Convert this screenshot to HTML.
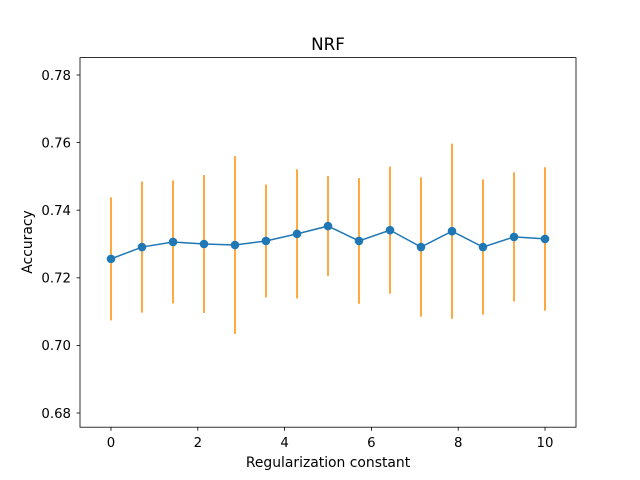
<!DOCTYPE html>
<html><head><meta charset="utf-8"><style>
body{margin:0;background:#fff;}
svg{display:block;font-family:"DejaVu Sans","Liberation Sans",sans-serif;}
</style></head><body>
<svg id="chart" width="640" height="480" viewBox="0 0 640 480">
<rect x="0" y="0" width="640" height="480" fill="#fff"/>
<text x="328" y="50" text-anchor="middle" font-size="16.7">NRF</text>
<g id="grid"></g>
<g id="marks"></g>
<rect x="80" y="57.6" width="496" height="369.6" fill="none" stroke="#000" stroke-width="0.8"/>
<text x="328" y="467" text-anchor="middle" font-size="13.9">Regularization constant</text>
<text transform="translate(32,242) rotate(-90)" text-anchor="middle" font-size="13.9">Accuracy</text>
</svg>
<script>
const xTicks=[0,2,4,6,8,10];
const yTicks=[0.68,0.70,0.72,0.74,0.76,0.78];
const xValues=[0,0.714,1.429,2.143,2.857,3.571,4.286,5,5.714,6.429,7.143,7.857,8.571,9.286,10];
const accuracy=[0.7256,0.7291,0.7306,0.7300,0.7297,0.7309,0.7330,0.7353,0.7309,0.7341,0.7291,0.7338,0.7291,0.7321,0.7315];
const errors=[0.0182,0.0194,0.0182,0.0204,0.0263,0.0167,0.0191,0.0148,0.0186,0.0188,0.0206,0.0259,0.0200,0.0191,0.0212];
const NS="http://www.w3.org/2000/svg";
function xs(v){return 111+v*43.4;}
function ys(v){return 413-(v-0.68)*3380;}
const grid=document.getElementById('grid'), marks=document.getElementById('marks');
function mk(tag,attrs,parent){const e=document.createElementNS(NS,tag);for(const k in attrs)e.setAttribute(k,attrs[k]);parent.appendChild(e);return e;}
xTicks.forEach(t=>{
  const l=mk('line',{x1:xs(t),x2:xs(t),y1:427.2,y2:430.7,stroke:'#000','stroke-width':0.8},grid);
  
  
  const tx=mk('text',{x:xs(t),y:447,'text-anchor':'middle','font-size':13.3},grid);
  tx.textContent=String(t);
  
  
});
yTicks.forEach(t=>{
  const l=mk('line',{x1:76.5,x2:80,y1:ys(t),y2:ys(t),stroke:'#000','stroke-width':0.8},grid);
  
  
  const tx=mk('text',{x:71,y:ys(t)+4.8,'text-anchor':'end','font-size':13.3},grid);
  tx.textContent=t.toFixed(2);
  
  
});
xValues.forEach((x,i)=>{
  const l=mk('line',{x1:xs(x),x2:xs(x),y1:ys(accuracy[i]+errors[i]),y2:ys(accuracy[i]-errors[i]),stroke:'#ff8c00','stroke-width':1.5},marks);
  
  
});
const pts=xValues.map((x,i)=>xs(x)+','+ys(accuracy[i])).join(' ');
const pl=mk('polyline',{points:pts,fill:'none',stroke:'#1f77b4','stroke-width':1.5},marks);


xValues.forEach((x,i)=>{
  const c=mk('circle',{cx:xs(x),cy:ys(accuracy[i]),r:4.3,fill:'#1f77b4'},marks);
  
  
});
</script>
</body></html>
